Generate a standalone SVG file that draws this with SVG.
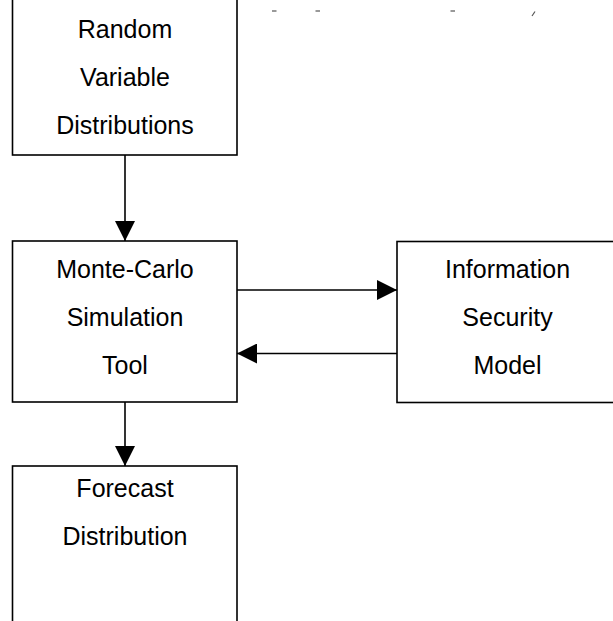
<svg xmlns="http://www.w3.org/2000/svg" width="613" height="621" viewBox="0 0 613 621">
  <style>
    .box { fill: #ffffff; stroke: #000000; stroke-width: 1.6; }
    .wire { fill: none; stroke: #000000; stroke-width: 1.6; }
    .label { font-family: "Liberation Sans", Arial, Helvetica, sans-serif; font-size: 25px; fill: #000000; text-anchor: middle; }
    .mark { fill: none; stroke: #555555; stroke-width: 1.2; }
  </style>
  <defs>
    <marker id="head" markerUnits="userSpaceOnUse" markerWidth="20" markerHeight="20" refX="20" refY="10" orient="auto">
      <path d="M0,0 L20,10 L0,20 Z" fill="#000000"/>
    </marker>
  </defs>

  <rect width="613" height="621" fill="#ffffff"/>

  <!-- clipped caption fragments along the top edge -->
  <g id="caption-fragments">
    <line class="mark" x1="272" y1="11" x2="276.5" y2="11"/>
    <line class="mark" x1="315.5" y1="11" x2="320" y2="11"/>
    <line class="mark" x1="450.5" y1="11" x2="455" y2="11"/>
    <line class="mark" x1="532" y1="16" x2="535" y2="11.5"/>
  </g>

  <!-- connectors -->
  <g id="connectors">
    <line class="wire" x1="125" y1="155" x2="125" y2="241" marker-end="url(#head)"/>
    <line class="wire" x1="237" y1="290" x2="397" y2="290" marker-end="url(#head)"/>
    <line class="wire" x1="397" y1="353.5" x2="237" y2="353.5" marker-end="url(#head)"/>
    <line class="wire" x1="125" y1="402" x2="125" y2="466" marker-end="url(#head)"/>
  </g>

  <g id="random-variable-distributions">
    <rect class="box" x="12.5" y="-10" width="224.5" height="165"/>
    <text class="label" x="125" y="38">Random</text>
    <text class="label" x="125" y="86">Variable</text>
    <text class="label" x="125" y="134">Distributions</text>
  </g>

  <g id="monte-carlo-simulation-tool">
    <rect class="box" x="12.5" y="241" width="224.5" height="161"/>
    <text class="label" x="125" y="278">Monte-Carlo</text>
    <text class="label" x="125" y="326">Simulation</text>
    <text class="label" x="125" y="374">Tool</text>
  </g>

  <g id="information-security-model">
    <rect class="box" x="397" y="241.5" width="224" height="161"/>
    <text class="label" x="507.5" y="277.5">Information</text>
    <text class="label" x="507.5" y="325.5">Security</text>
    <text class="label" x="507.5" y="373.5">Model</text>
  </g>

  <g id="forecast-distribution">
    <rect class="box" x="12.5" y="466" width="224.5" height="170"/>
    <text class="label" x="125" y="497">Forecast</text>
    <text class="label" x="125" y="545">Distribution</text>
  </g>
</svg>
